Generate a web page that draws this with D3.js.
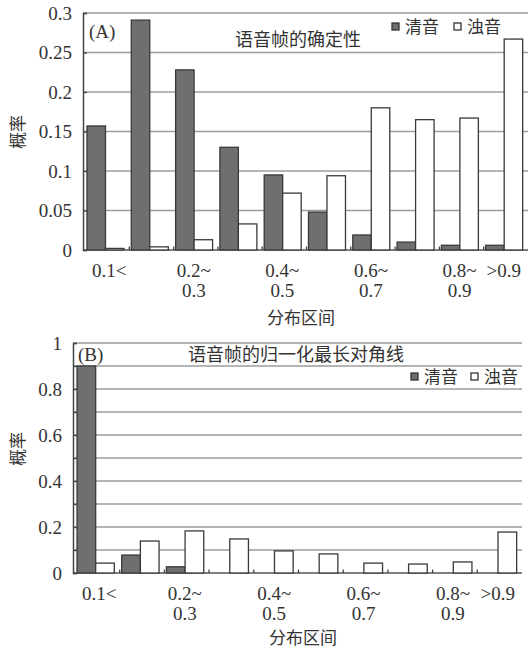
<!DOCTYPE html>
<html>
<head>
<meta charset="utf-8">
<script src="https://cdn.jsdelivr.net/npm/d3@7"></script>
<style>
  body { margin: 0; background: #fff; }
  svg { display: block; }
</style>
</head>
<body>
<div id="chart"></div>
<script>
// categories (10 bins), only some labels are printed under the axis
const categories = ["0.1<", "0.1~0.2", "0.2~0.3", "0.3~0.4", "0.4~0.5",
                    "0.5~0.6", "0.6~0.7", "0.7~0.8", "0.8~0.9", ">0.9"];
const shownLabels = ["0.1<", "0.2~0.3", "0.4~0.5", "0.6~0.7", "0.8~0.9", ">0.9"];
const seriesNames = ["清音", "浊音"];

// panel A: 语音帧的确定性
const unvoicedA = [0.157, 0.291, 0.228, 0.130, 0.095, 0.048, 0.019, 0.010, 0.006, 0.006];
const voicedA   = [0.002, 0.004, 0.013, 0.033, 0.072, 0.094, 0.180, 0.165, 0.167, 0.267];
const yTicksA = [0, 0.05, 0.1, 0.15, 0.2, 0.25, 0.3];

// panel B: 语音帧的归一化最长对角线
const unvoicedB = [0.900, 0.078, 0.027, 0, 0, 0, 0, 0, 0, 0];
const voicedB   = [0.043, 0.139, 0.183, 0.148, 0.096, 0.083, 0.043, 0.039, 0.048, 0.178];
const yGridB = [0, 0.1, 0.2, 0.3, 0.4, 0.5, 0.6, 0.7, 0.8, 0.9, 1];
const yLabelsB = [0, 0.2, 0.4, 0.6, 0.8, 1];

const W = 528, H = 648;
const SERIF = "'Liberation Serif', 'DejaVu Serif', serif";
const CJK = "'Noto Sans CJK SC', sans-serif";
const svg = d3.select("#chart").append("svg")
    .attr("width", W).attr("height", H);

const colors = { "清音": "#6f6f6f", "浊音": "#ffffff" };

function txt(sel, fam, size) {
    return sel.style("font-family", fam).style("font-size", size + "px").style("fill", "#333");
}

function drawPanel(p) {
    const g = svg.append("g");
    const x = d3.scaleBand().domain(categories).range([p.left, p.right]);
    const x1 = d3.scaleBand().domain(seriesNames)
        .range([x.bandwidth() * 0.09, x.bandwidth() * 0.925]);
    const y = d3.scaleLinear().domain(p.domain).range([p.bottom, p.top]);

    // grid lines
    g.selectAll(".grid").data(p.grid).enter().append("line")
        .attr("x1", p.left).attr("x2", p.gridRight)
        .attr("y1", d => y(d)).attr("y2", d => y(d))
        .attr("stroke", d => d === 0 ? "#555" : "#9d9d9d")
        .attr("stroke-width", 1.5);

    // bars
    const rows = categories.map((c, i) => ({ c, v: [p.s1[i], p.s2[i]] }));
    const grp = g.selectAll(".grp").data(rows).enter().append("g")
        .attr("transform", d => `translate(${x(d.c)},0)`);
    grp.selectAll("rect")
        .data(d => d.v.map((v, j) => ({ name: seriesNames[j], v })).filter(e => e.v > 0))
        .enter().append("rect")
        .attr("x", e => x1(e.name))
        .attr("width", x1.bandwidth())
        .attr("y", e => y(e.v))
        .attr("height", e => y(0) - y(e.v))
        .attr("fill", e => colors[e.name])
        .attr("stroke", "#3a3a3a")
        .attr("stroke-width", 1.3);

    // left axis with inward ticks
    const yAxis = d3.axisLeft(y).tickValues(p.grid).tickSize(-4).tickPadding(11)
        .tickFormat(d => p.labels.includes(d) ? String(+d.toFixed(2)) : "");
    const ya = g.append("g").attr("transform", `translate(${p.left},0)`).call(yAxis);
    ya.attr("font-family", null).attr("font-size", null);
    ya.select(".domain").attr("stroke", "#444").attr("stroke-width", 1.5);
    ya.selectAll(".tick line").attr("stroke", "#444").attr("stroke-width", 1.3);
    txt(ya.selectAll(".tick text"), SERIF, 19).attr("dy", "0.32em");

    // small ticks at band edges on the baseline
    const edges = categories.slice(1).map(c => x(c));
    g.selectAll(".btick").data(edges).enter().append("line")
        .attr("x1", d => d + 2).attr("x2", d => d + 2)
        .attr("y1", y(0)).attr("y2", y(0) - 3.5)
        .attr("stroke", "#444").attr("stroke-width", 1.3);

    // category labels, split into two lines at "~"
    const lab = txt(g.selectAll(".xlab").data(shownLabels).enter().append("text"), SERIF, 19)
        .attr("text-anchor", "middle")
        .attr("transform", d => `translate(${x(d) + x.bandwidth() / 2 + (d === "0.1<" ? 4 : 0)},${p.bottom + 27})`);
    lab.each(function (d) {
        const parts = d.includes("~") ? [d.split("~")[0] + "~", d.split("~")[1]] : [d];
        d3.select(this).selectAll("tspan").data(parts).enter().append("tspan")
            .attr("x", 0).attr("y", (t, i) => i * 20).text(t => t);
    });

    // panel tag and title
    txt(g.append("text"), SERIF, 19)
        .attr("x", p.tag[0]).attr("y", p.tag[1]).text(p.tagText);
    txt(g.append("text"), CJK, 18)
        .attr("text-anchor", "middle")
        .attr("x", p.title[0]).attr("y", p.title[1]).text(p.titleText);

    // legend
    const lg = g.append("g").attr("transform", `translate(${p.legend[0]},${p.legend[1]})`);
    seriesNames.forEach((n, i) => {
        const ox = i * p.legendGap;
        lg.append("rect").attr("x", ox).attr("y", -4).attr("width", 7).attr("height", 7)
            .attr("fill", colors[n]).attr("stroke", "#333").attr("stroke-width", 1.3);
        txt(lg.append("text"), CJK, 17)
            .attr("x", ox + 13).attr("y", 6).text(n);
    });

    // axis titles
    txt(g.append("text"), CJK, 17)
        .attr("text-anchor", "middle")
        .attr("transform", `translate(24,${p.ylab}) rotate(-90)`).text("概率");
    txt(g.append("text"), CJK, 17)
        .attr("text-anchor", "middle")
        .attr("x", p.xlab[0]).attr("y", p.xlab[1]).text("分布区间");
}

drawPanel({
    left: 83, right: 526, gridRight: 528, top: 13, bottom: 250,
    domain: [0, 0.3], grid: yTicksA, labels: yTicksA,
    s1: unvoicedA, s2: voicedA,
    tag: [89, 38], tagText: "(A)",
    title: [298, 46], titleText: "语音帧的确定性",
    legend: [392, 27], legendGap: 62,
    ylab: 132, xlab: [301, 324]
});

drawPanel({
    left: 73, right: 520, gridRight: 522, top: 343, bottom: 573,
    domain: [0, 1], grid: yGridB, labels: yLabelsB,
    s1: unvoicedB, s2: voicedB,
    tag: [78, 361], tagText: "(B)",
    title: [296, 361], titleText: "语音帧的归一化最长对角线",
    legend: [411, 377], legendGap: 60,
    ylab: 449, xlab: [303, 644]
});
</script>
</body>
</html>
